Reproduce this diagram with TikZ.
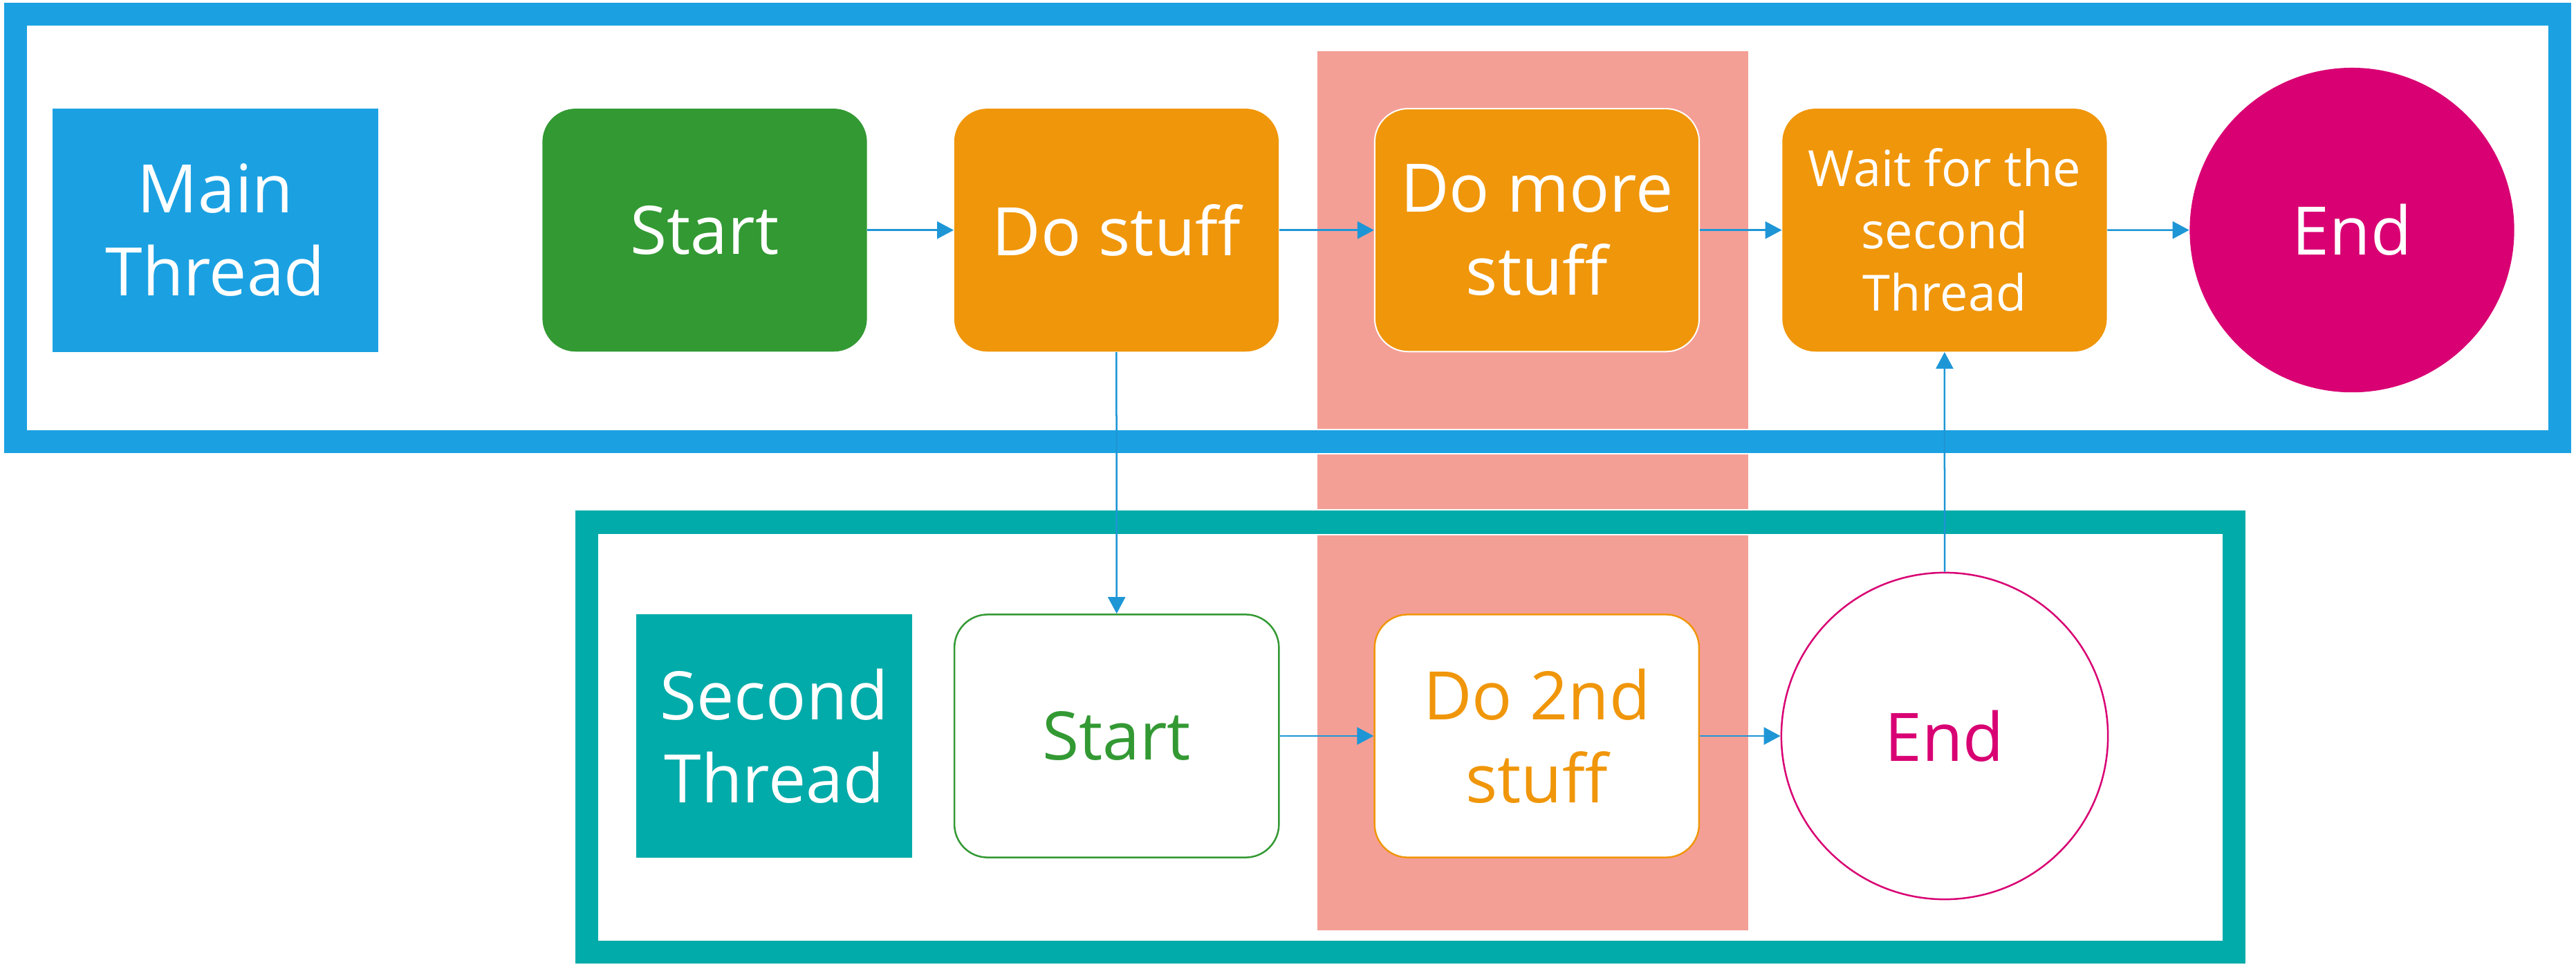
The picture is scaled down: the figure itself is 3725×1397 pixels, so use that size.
\documentclass[tikz,border=0pt]{standalone}
\usepackage{fontspec}
\setmainfont{Open Sans}
\usetikzlibrary{arrows.meta}
\definecolor{mblue}{HTML}{1BA1E2}
\definecolor{mgreen}{HTML}{339933}
\definecolor{morange}{HTML}{F0960A}
\definecolor{mmagenta}{HTML}{D80073}
\definecolor{mteal}{HTML}{00ABA9}
\definecolor{mpink}{HTML}{F49F96}
\definecolor{marrow}{HTML}{1E96D6}
\newcommand\fbig{\fontsize{27.5}{34}\selectfont}
\newcommand\fsmall{\fontsize{20.5}{25.6}\selectfont}
\tikzset{
  framebox/.style={line width=0.33cm},
  framegap/.style={draw=white, line width=0.37cm},
  stepbox/.style={rectangle, rounded corners=0.48cm, minimum width=4.69cm, minimum height=3.51cm, inner sep=0pt, align=center, font=\fbig, text=white},
  lanebox/.style={rectangle, minimum height=3.515cm, inner sep=0pt, align=center, font=\fbig, text=white},
  endnode/.style={circle, inner sep=0pt, align=center, font=\fbig},
  arr/.style={draw=marrow, line width=0.025cm, -{Triangle[length=0.24cm,width=0.25cm]}}
}
\begin{document}
\begin{tikzpicture}[x=0.01cm,y=-0.01cm]
\useasboundingbox (0,0) rectangle (3725,1397);
% pink band
\fill[mpink] (1905,74.5) rectangle (2528,1345);
% frames
\draw[framegap] (22.5,20.5) rectangle (3701.5,638.5);
\draw[framebox, draw=mblue] (22.5,20.5) rectangle (3701.5,638.5);
\draw[framegap] (848,755) rectangle (3230.5,1376.5);
\draw[framebox, draw=mteal] (848,755) rectangle (3230.5,1376.5);
% main thread
\node[lanebox, fill=mblue, minimum width=4.70cm] (mainlbl) at (311.4,332.7) {Main\\Thread};
\node[stepbox, fill=mgreen] (start1) at (1019,332.7) {Start};
\node[stepbox, fill=morange] (dostuff) at (1614.4,332.7) {Do stuff};
\node[stepbox, fill=morange, draw=white, line width=0.02cm] (domore) at (2222.5,332.7) {Do more\\stuff};
\node[stepbox, fill=morange, font=\fsmall] (wait) at (2811.9,332.7) {Wait for the\\second\\Thread};
\node[endnode, fill=mmagenta, text=white, minimum size=4.69cm] (end1) at (3401,332.6) {End};
% second thread
\node[lanebox, fill=mteal, minimum width=3.99cm] (secondlbl) at (1119.5,1064.2) {Second\\Thread};
\node[stepbox, fill=white, draw=mgreen, line width=0.025cm, text=mgreen] (start2) at (1614.7,1064) {Start};
\node[stepbox, fill=white, draw=morange, line width=0.025cm, text=morange] (do2) at (2222.3,1064) {Do 2nd\\stuff};
\node[endnode, fill=white, draw=mmagenta, line width=0.025cm, text=mmagenta, minimum size=4.72cm] (end2) at (2812,1064) {End};
% connectors
\draw[arr] (start1.east) -- (dostuff.west);
\draw[arr] (dostuff.east) -- (domore.west);
\draw[arr] (domore.east) -- (wait.west);
\draw[arr] (wait.east) -- (end1.west);
\draw[arr] (dostuff.south) -- (start2.north);
\draw[arr] (start2.east) -- (do2.west);
\draw[arr] (do2.east) -- (end2.west);
\draw[arr] (end2.north) -- (wait.south);
\end{tikzpicture}
\end{document}
